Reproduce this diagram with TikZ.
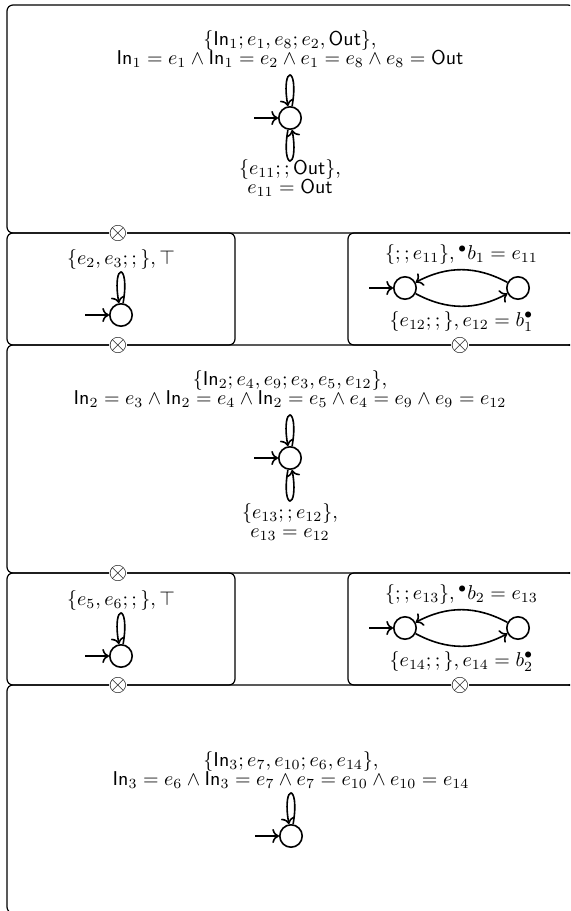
\documentclass[tikz,border=0pt]{standalone}
\usepackage{amsmath}
\usepackage{amssymb}
\usepackage{tikz}
\usetikzlibrary{automata, positioning, arrows.meta}
\newcommand{\sIn}{\mathsf{In}}
\newcommand{\sOut}{\mathsf{Out}}

\begin{document}
\begin{tikzpicture}[
    box/.style={draw, semithick, rounded corners=3pt},
    st/.style={state, minimum size=11.2pt, inner sep=0pt, thick, initial text={}, initial distance=12pt, every initial by arrow/.style={thick}},
    prod/.style={fill=white, inner sep=0pt, font=\large},
    lbl/.style={align=center, inner sep=2pt},
    every edge/.style={draw, thick, ->},
    every loop/.style={min distance=21pt},
    uloop/.style={out=80, in=100, loop},
    dloop/.style={out=-100, in=-80, loop},
    flow/.style={bend right=28}
]
\useasboundingbox (0pt,0pt) rectangle (285pt,-455.5pt);
\clip (0pt,0pt) rectangle (285pt,-455.5pt);

% Frames
\draw[box] (3.5pt,-2.5pt) rectangle (287pt,-116.5pt);
\draw[box] (3.5pt,-116.5pt) rectangle (117.5pt,-172.5pt);
\draw[box] (174pt,-116.5pt) rectangle (287pt,-172.5pt);
\draw[box] (3.5pt,-172.5pt) rectangle (287pt,-286.5pt);
\draw[box] (3.5pt,-286.5pt) rectangle (117.5pt,-342.5pt);
\draw[box] (174pt,-286.5pt) rectangle (287pt,-342.5pt);
\draw[box] (3.5pt,-342.5pt) rectangle (287pt,-456.5pt);

% Products
\node[prod] (x1) at (59pt,-116.5pt) {$\otimes$};
\node[prod] (x2) at (59pt,-172.5pt) {$\otimes$};
\node[prod] (x3) at (230pt,-172.5pt) {$\otimes$};
\node[prod] (x4) at (59pt,-286.5pt) {$\otimes$};
\node[prod] (x5) at (59pt,-342.5pt) {$\otimes$};
\node[prod] (x6) at (230pt,-342.5pt) {$\otimes$};

% Component 1
\node[st, initial] (s1) at (145pt,-59pt) {};
\path (s1) edge[uloop] node[lbl, above=1.5pt] (t1)
        {$\{\sIn_1; e_1, e_8; e_2, \sOut\}$,\\[-2.5pt]
         $\sIn_1 = e_1 \wedge \sIn_1 = e_2 \wedge e_1 = e_8 \wedge e_8 = \sOut$} (s1)
      (s1) edge[dloop] node[lbl, below=-3pt] (u1)
        {$\{e_{11};;\sOut\}$,\\[-2.5pt] $e_{11} = \sOut$} (s1);

% Buffer 1
\node[st, initial] (s2) at (60.5pt,-157.5pt) {};
\path (s2) edge[uloop] node[lbl, above=-1pt] (t2) {$\{e_2, e_3;;\}, \top$} (s2);

\node[st, initial] (q1a) at (202.5pt,-144pt) {};
\node[st] (q1b) at (259pt,-144pt) {};
\path (q1b) edge[flow] node[lbl, above] (t3) {$\{;;e_{11}\}, {}^{\bullet}b_1 = e_{11}$} (q1a)
      (q1a) edge[flow] node[lbl, below] (u3) {$\{e_{12};;\}, e_{12} = b_1^{\bullet}$} (q1b);

% Component 2
\node[st, initial] (s3) at (145pt,-229pt) {};
\path (s3) edge[uloop] node[lbl, above=1.5pt] (t4)
        {$\{\sIn_2; e_4, e_9; e_3, e_5, e_{12}\}$,\\[-2.5pt]
         $\sIn_2 = e_3 \wedge \sIn_2 = e_4 \wedge \sIn_2 = e_5 \wedge e_4 = e_9 \wedge e_9 = e_{12}$} (s3)
      (s3) edge[dloop] node[lbl, below=-1pt] (u4)
        {$\{e_{13};;e_{12}\}$,\\[-2.5pt] $e_{13} = e_{12}$} (s3);

% Buffer 2
\node[st, initial] (s4) at (60.5pt,-328pt) {};
\path (s4) edge[uloop] node[lbl, above=-1pt] (t5) {$\{e_5, e_6;;\}, \top$} (s4);

\node[st, initial] (q2a) at (202.5pt,-314pt) {};
\node[st] (q2b) at (259pt,-314pt) {};
\path (q2b) edge[flow] node[lbl, above] (t6) {$\{;;e_{13}\}, {}^{\bullet}b_2 = e_{13}$} (q2a)
      (q2a) edge[flow] node[lbl, below] (u6) {$\{e_{14};;\}, e_{14} = b_2^{\bullet}$} (q2b);

% Component 3
\node[st, initial] (s5) at (145.5pt,-418pt) {};
\path (s5) edge[uloop] node[lbl, above] (t7)
        {$\{\sIn_3; e_7, e_{10}; e_6, e_{14}\}$,\\[-2.5pt]
         $\sIn_3 = e_6 \wedge \sIn_3 = e_7 \wedge e_7 = e_{10} \wedge e_{10} = e_{14}$} (s5);
\end{tikzpicture}
\end{document}
